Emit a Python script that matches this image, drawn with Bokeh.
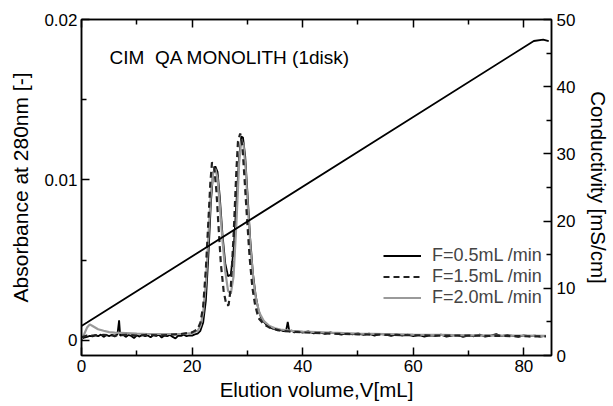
from bokeh.plotting import figure
from bokeh.models import (Range1d, LinearAxis, FixedTicker, Legend, LegendItem, Label,
                          CustomJSTickFormatter)
from bokeh.embed import file_html
from bokeh.resources import INLINE

# ---------------- data ----------------
# Absorbance, F = 0.5 mL/min (solid black, noisy)
v_05 = [0, 0.5, 1, 1.5, 2, 2.5, 3, 3.5, 4, 4.5, 5, 5.5, 6, 6.5, 6.8, 7.0, 7.5, 8, 8.5, 9, 9.5,
        10, 10.5, 11, 11.5, 12, 12.5, 13, 13.5, 14, 14.5, 15, 15.5, 16, 16.5, 17, 17.5, 18, 18.5,
        19, 19.5, 20, 20.5, 21, 21.5, 22, 22.5, 23, 23.4, 23.8, 24.2, 24.6, 25.0, 25.5, 26.0, 26.5,
        27.0, 27.5, 28.0, 28.5, 28.9, 29.2, 29.6, 30.0, 30.5, 31.0, 31.5, 32.0, 32.5, 33, 33.5, 34,
        34.5, 35, 35.5, 36, 36.5, 37, 37.3, 37.6, 38, 38.5, 39,
        40, 41, 42, 43, 44, 45, 46, 47, 48, 49, 50, 51, 52, 53, 54, 55, 56, 57, 58, 59, 60, 61, 62,
        63, 64, 65, 66, 67, 68, 69, 70, 71, 72, 73, 74, 75, 76, 77, 78, 79, 80, 81, 82, 83, 84]
a_05 = [0.00010, 0.00018, 0.00022, 0.00028, 0.00025, 0.00033, 0.00026, 0.00036, 0.00022, 0.00034,
        0.00027, 0.00035, 0.00024, 0.00038, 0.00125, 0.00030, 0.00036, 0.00022, 0.00034, 0.00028,
        0.00015, 0.00032, 0.00024, 0.00035, 0.00026, 0.00031, 0.00020, 0.00034, 0.00028, 0.00036,
        0.00018, 0.00030, 0.00026, 0.00034, 0.00022, 0.00012, 0.00030, 0.00028, 0.00036, 0.00026,
        0.00032, 0.00030, 0.00038, 0.00042, 0.00060, 0.00110, 0.00250, 0.00560, 0.00860, 0.01040,
        0.01085, 0.01050, 0.00900, 0.00660, 0.00480, 0.00400, 0.00410, 0.00560, 0.00850, 0.01140,
        0.01270, 0.01265, 0.01150, 0.00930, 0.00640, 0.00420, 0.00280, 0.00190, 0.00140, 0.00115,
        0.00095, 0.00085, 0.00074, 0.00070, 0.00062, 0.00066, 0.00058, 0.00060, 0.00115, 0.00055,
        0.00062, 0.00050, 0.00058,
        0.00048, 0.00056, 0.00044, 0.00052, 0.00040, 0.00050, 0.00042, 0.00036, 0.00046, 0.00038,
        0.00044, 0.00034, 0.00042, 0.00030, 0.00040, 0.00036, 0.00028, 0.00038, 0.00030, 0.00036,
        0.00026, 0.00034, 0.00024, 0.00032, 0.00028, 0.00036, 0.00024, 0.00030, 0.00034, 0.00022,
        0.00032, 0.00026, 0.00036, 0.00024, 0.00030, 0.00040, 0.00026, 0.00034, 0.00028, 0.00022,
        0.00032, 0.00026, 0.00030, 0.00024, 0.00028]

# Absorbance, F = 1.5 mL/min (dashed black)
v_15 = [0, 1, 2, 4, 6, 8, 10, 12, 14, 16, 18, 20, 21, 21.5, 22, 22.5, 23, 23.3, 23.6, 24, 24.4,
        24.8, 25.2, 25.7, 26.2, 26.6, 27.0, 27.5, 28.0, 28.3, 28.7, 29.1, 29.5, 29.9, 30.4, 30.9,
        31.4, 32, 33, 34, 36, 38, 40, 45, 50, 55, 60, 65, 70, 75, 80, 84]
a_15 = [0.0002, 0.0003, 0.0003, 0.00035, 0.0003, 0.00035, 0.0003, 0.00035, 0.0003, 0.00035,
        0.0004, 0.0005, 0.0007, 0.0011, 0.0021, 0.0045, 0.0078, 0.0098, 0.0111, 0.0108, 0.0093,
        0.0070, 0.0048, 0.0031, 0.0022, 0.0022, 0.0033, 0.0065, 0.0105, 0.0124, 0.0129, 0.0121,
        0.0100, 0.0078, 0.0052, 0.0033, 0.0022, 0.0014, 0.0010, 0.0008, 0.0006, 0.00055, 0.0005,
        0.00042, 0.00038, 0.00035, 0.00032, 0.0003, 0.0003, 0.00028, 0.00026, 0.00025]

# Absorbance, F = 2.0 mL/min (grey)
v_20 = [0, 0.5, 1.0, 1.5, 2, 3, 4, 5, 6, 8, 10, 12, 14, 16, 18, 20, 21, 21.5, 22, 22.5, 23, 23.4,
        23.8, 24.2, 24.6, 25.0, 25.5, 26.0, 26.5, 27.0, 27.5, 28.0, 28.5, 28.9, 29.3, 29.7, 30.1,
        30.6, 31.1, 31.6, 32.2, 33, 34, 35, 36, 38, 40, 45, 50, 55, 60, 65, 70, 75, 80, 84]
a_20 = [0.0001, 0.0004, 0.0008, 0.0010, 0.0009, 0.0007, 0.0006, 0.00052, 0.00048, 0.00045,
        0.00042, 0.0004, 0.0004, 0.0004, 0.0004, 0.00045, 0.0006, 0.0009, 0.0017, 0.0036, 0.0068,
        0.0092, 0.0104, 0.0107, 0.0101, 0.0085, 0.0062, 0.0043, 0.0031, 0.0029, 0.0040, 0.0072,
        0.0110, 0.0125, 0.0122, 0.0106, 0.0082, 0.0056, 0.0037, 0.0025, 0.0017, 0.0012, 0.0009,
        0.00075, 0.00068, 0.0006, 0.00055, 0.00048, 0.00042, 0.0004, 0.00036, 0.00034, 0.00032,
        0.0003, 0.0003, 0.00028]

# Conductivity gradient (right axis)
v_cond = [0, 1.0, 81.8, 83.5, 84.5]
cond = [4.4, 4.9, 46.8, 47.0, 46.8]

x_ticks = [0, 20, 40, 60, 80]
x_minor = [10, 30, 50, 70]
y_ticks = [0, 0.01, 0.02]
y_minor = [0.005, 0.015]
y_labels = {0: "0", 0.01: "0.01", 0.02: "0.02"}
c_ticks = [0, 10, 20, 30, 40, 50]
c_minor = [5, 15, 25, 35, 45]
series_names = ["F=0.5mL /min", "F=1.5mL /min", "F=2.0mL /min"]

FONT = "Liberation Sans"
TICK_FS = "17px"

p = figure(width=613, height=406, x_range=Range1d(0, 85), y_range=Range1d(-0.00094, 0.02),
           output_backend="svg", toolbar_location=None,
           min_border_left=81, min_border_right=59, min_border_top=19, min_border_bottom=51)
p.extra_y_ranges = {"cond": Range1d(0, 50)}
p.grid.visible = False
p.outline_line_color = "black"
p.outline_line_width = 1.5
p.background_fill_color = "white"
p.border_fill_color = "white"


def style_axis(ax, ticks, minor, label_fs="20.5px"):
    ax.ticker = FixedTicker(ticks=ticks, minor_ticks=minor)
    ax.major_tick_in = 8
    ax.major_tick_out = 0
    ax.minor_tick_in = 5
    ax.minor_tick_out = 0
    ax.major_tick_line_width = 1.5
    ax.minor_tick_line_width = 1.5
    ax.axis_line_width = 1.5
    ax.major_label_text_font = FONT
    ax.major_label_text_font_size = TICK_FS
    ax.major_label_text_color = "black"
    ax.axis_label_text_font = FONT
    ax.axis_label_text_font_size = label_fs
    ax.axis_label_text_font_style = "normal"
    ax.axis_label_text_color = "black"


xa = p.xaxis[0]
style_axis(xa, x_ticks, x_minor)
xa.axis_label = "Elution volume,V[mL]"
xa.major_label_standoff = 4
xa.axis_label_standoff = 3

ya = p.yaxis[0]
style_axis(ya, y_ticks, y_minor, "21px")
ya.major_label_overrides = y_labels
ya.axis_label = "Absorbance at 280nm [-]"
ya.major_label_standoff = 4
ya.axis_label_standoff = 9

top = LinearAxis(formatter=CustomJSTickFormatter(code="return ''"))
style_axis(top, x_ticks, x_minor)
top.major_label_text_font_size = "1px"
top.major_label_standoff = 0
p.add_layout(top, "above")

ra = LinearAxis(y_range_name="cond")
style_axis(ra, c_ticks, c_minor)
ra.axis_label = "Conductivity [mS/cm]"
ra.major_label_standoff = 5
ra.axis_label_standoff = 9
p.add_layout(ra, "right")

r05 = p.line(v_05, a_05, line_color="black", line_width=1.8)
r20 = p.line(v_20, a_20, line_color="#9a9a9a", line_width=2.2)
r15 = p.line(v_15, a_15, line_color="#222222", line_width=2.2, line_dash="6 4")
p.line(v_cond, cond, y_range_name="cond", line_color="black", line_width=1.8)

legend = Legend(items=[LegendItem(label=series_names[0], renderers=[r05]),
                       LegendItem(label=series_names[1], renderers=[r15]),
                       LegendItem(label=series_names[2], renderers=[r20])],
                location=(302, 47), background_fill_alpha=0, border_line_alpha=0,
                label_text_font=FONT, label_text_font_size="18px", glyph_width=38,
                spacing=0, padding=0, margin=0, label_height=21, glyph_height=21,
                label_standoff=11)
p.add_layout(legend, "center")

p.add_layout(Label(x=28, y=298, x_units="screen", y_units="screen",
                   text="CIM\u00a0 QA MONOLITH (1disk)", text_font=FONT,
                   text_font_size="19px", text_color="black", text_baseline="alphabetic"))

open("out.html", "w").write(file_html(p, INLINE))
